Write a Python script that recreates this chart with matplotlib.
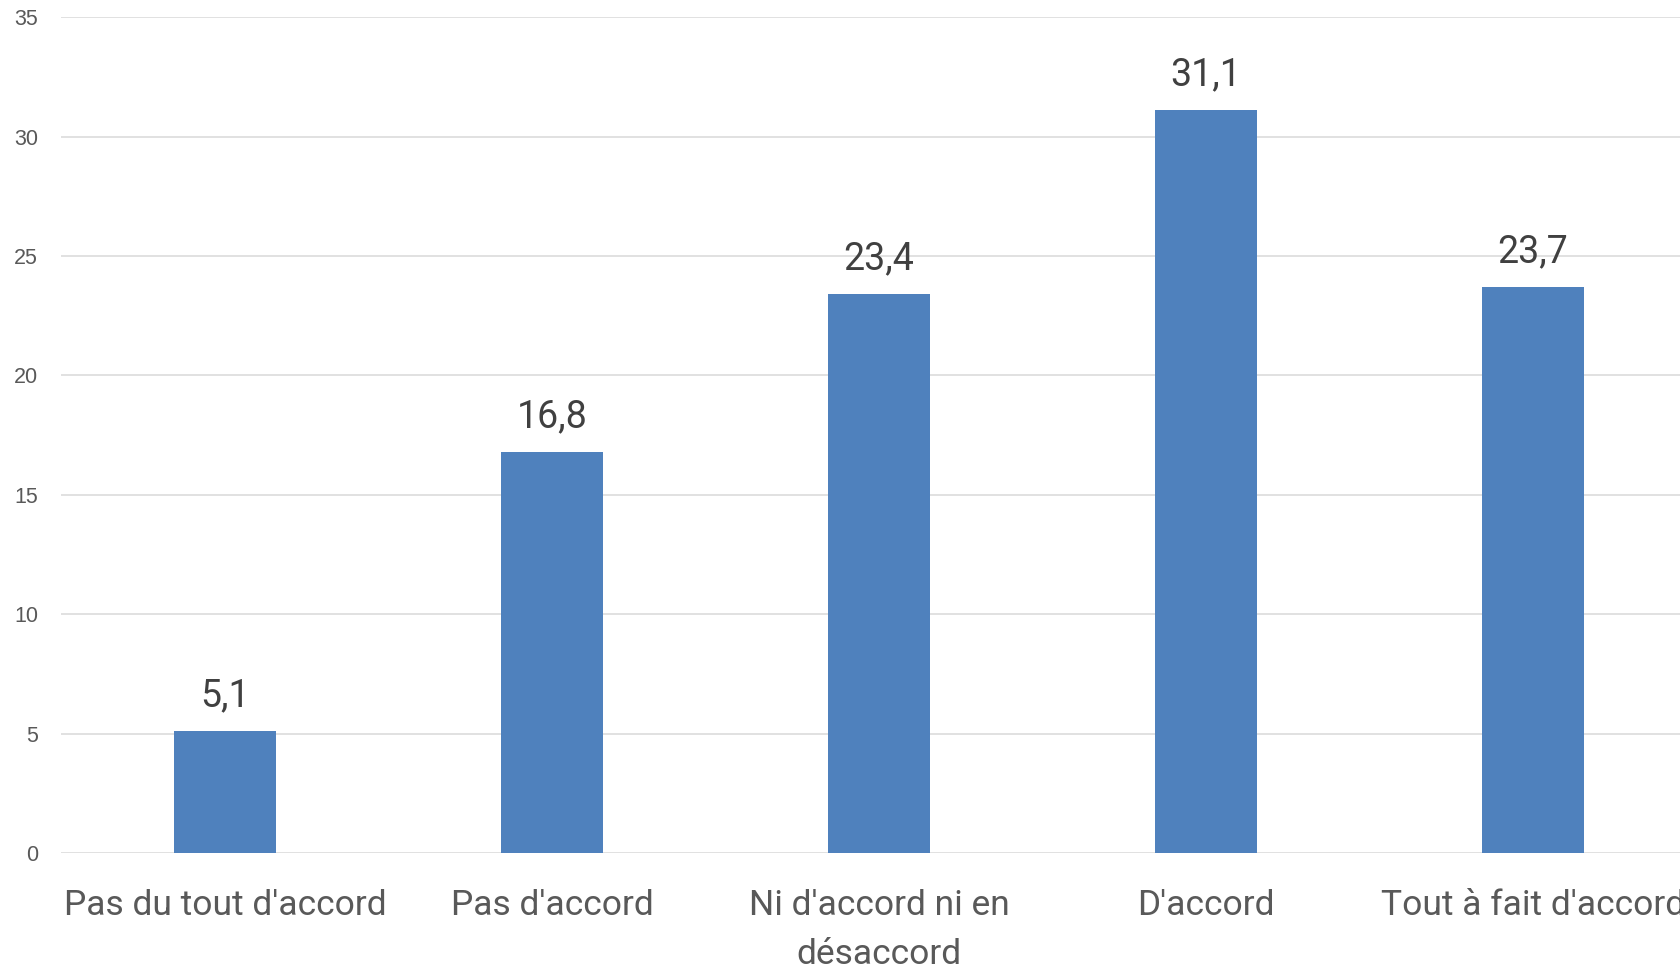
import matplotlib
matplotlib.use("Agg")
import matplotlib.pyplot as plt

categories = ["Pas du tout d'accord", "Pas d'accord", "Ni d'accord ni en\ndésaccord",
              "D'accord", "Tout à fait d'accord"]
values = [5.1, 16.8, 23.4, 31.1, 23.7]
yticks = [0, 5, 10, 15, 20, 25, 30, 35]

fig = plt.figure(figsize=(16.81, 9.72), dpi=100)
ax = fig.add_axes([61.5 / 1681, 119 / 972, 1635 / 1681, 835.7 / 972])

x = list(range(len(categories)))
bars = ax.bar(x, values, width=0.312, color="#4f81bd", zorder=3)

ax.set_xlim(-0.5, len(categories) - 0.5)
ax.set_ylim(0, 35)
ax.set_yticks(yticks)
ax.set_yticklabels([str(t) for t in yticks], fontsize=15.5, color="#595959",
                   family="Liberation Sans")
ax.grid(axis="y", color="#d9d9d9", linewidth=1.1, zorder=0)
ax.tick_params(axis="y", length=0, pad=17)
ax.tick_params(axis="x", length=0, pad=26)
ax.set_xticks(x)
ax.set_xticklabels(categories, fontsize=25.5, color="#595959", family="Roboto",
                   linespacing=1.6)
for s in ax.spines.values():
    s.set_visible(False)

for xi, v in zip(x, values):
    ax.annotate(f"{v:.1f}".replace(".", ","), (xi, v), xytext=(0, 12),
                textcoords="offset points", ha="center", va="bottom",
                fontsize=27, color="#404040", family="Roboto")

fig.savefig("out.png", dpi=100)
